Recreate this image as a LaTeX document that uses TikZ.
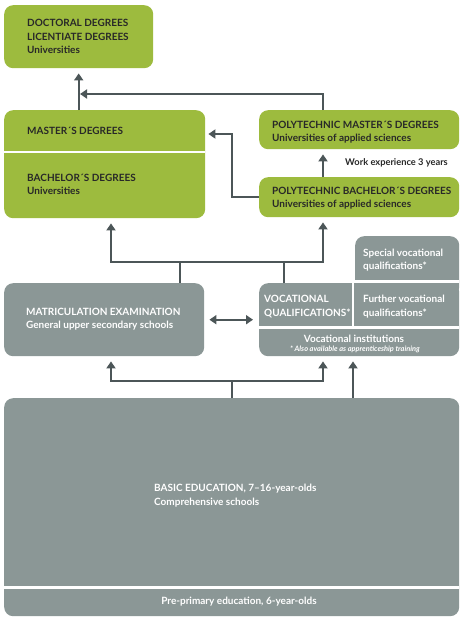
\documentclass[tikz,border=0pt]{standalone}
\usepackage{fontspec}
\setmainfont{Lato}
\usetikzlibrary{arrows.meta,positioning}

\definecolor{unigreen}{RGB}{157,187,62}
\definecolor{schoolgrey}{RGB}{139,151,150}
\definecolor{arrowgrey}{RGB}{76,86,88}
\definecolor{textdark}{RGB}{40,40,40}

\tikzset{
    box/.style={rounded corners=9pt, anchor=north west, inner sep=0pt},
    greenbox/.style={box, fill=unigreen},
    greybox/.style={box, fill=schoolgrey},
    gtext/.style={anchor=west, inner sep=0pt, align=left, text=textdark, font=\bfseries\fontsize{10}{13.3}\selectfont},
    wtext/.style={gtext, text=white},
    link/.style={draw=arrowgrey, line width=1.8pt},
    arr/.style={link, -{Triangle[width=9pt,length=7pt]}, shorten >=5pt},
    dblarr/.style={link, {Triangle[width=9pt,length=7pt]}-{Triangle[width=9pt,length=7pt]}},
    divider/.style={draw=white, line width=2.5pt},
}

\begin{document}
\begin{tikzpicture}[x=1pt,y=-1pt]
    \useasboundingbox (0,0) rectangle (462,624);

    % green boxes
    \node[greenbox, minimum width=149pt, minimum height=63pt] (doc) at (4,5) {};
    \node[greenbox, minimum width=201pt, minimum height=108pt] (unis) at (4,110) {};
    \node[greenbox, minimum width=200pt, minimum height=39pt] (polym) at (259,110) {};
    \node[greenbox, minimum width=200pt, minimum height=40pt] (polyb) at (259,177) {};
    \draw[divider] (unis.west |- 0,152) -- (unis.east |- 0,152);

    % grey boxes
    \node[greybox, minimum width=200pt, minimum height=73pt] (matric) at (4,283) {};
    \node[greybox, minimum width=104pt, minimum height=60pt] (special) at (355,236) {};
    \node[greybox, minimum width=200pt, minimum height=73pt] (vocbox) at (259,283) {};
    \node[greybox, minimum width=455pt, minimum height=218pt] (basic) at (4,398) {};
    \draw[divider] (353,281.5) -- (special.east |- 0,281.5);
    \draw[divider] (353,281) -- (353,328);
    \draw[divider] (vocbox.west |- 0,327.5) -- (vocbox.east |- 0,327.5);
    \draw[divider] (basic.west |- 0,587.5) -- (basic.east |- 0,587.5);

    % texts
    \node[gtext] (doctxt) at (27,36.5) {DOCTORAL DEGREES\\LICENTIATE DEGREES\\Universities};
    \node[gtext] (mastxt) at (27,131) {MASTER´S DEGREES};
    \node[gtext] (bachtxt) at (27,184.5) {BACHELOR´S DEGREES\\Universities};
    \node[gtext] (polymtxt) at (272,132.5) {POLYTECHNIC MASTER´S DEGREES\\Universities of applied sciences};
    \node[gtext] (polybtxt) at (272,198.5) {POLYTECHNIC BACHELOR´S DEGREES\\Universities of applied sciences};
    \node[gtext, anchor=east, font=\bfseries\fontsize{9.3}{11}\selectfont] (work) at (448,163) {Work experience 3 years};
    \node[wtext] (matrictxt) at (26,319.5) {MATRICULATION EXAMINATION\\General upper secondary schools};
    \node[wtext] (specialtxt) at (363,260) {Special vocational\\qualifications*};
    \node[wtext] (voctxt) at (264,306.5) {VOCATIONAL\\QUALIFICATIONS*};
    \node[wtext] (furthertxt) at (363,306.5) {Further vocational\\qualifications*};
    \node[wtext, anchor=center] (insttxt) at (354,339) {Vocational institutions};
    \node[wtext, anchor=center, font=\bfseries\itshape\fontsize{7.4}{8}\selectfont] (apprtxt) at (355,349.5) {* Also available as apprenticeship training};
    \node[wtext] (basictxt) at (154,495.5) {BASIC EDUCATION, 7–16-year-olds\\Comprehensive schools};
    \node[wtext, anchor=center] (pretxt) at (239,602) {Pre-primary education, 6-year-olds};

    % junctions
    \coordinate (topbar) at (80,94);
    \coordinate (turn) at (232,134);
    \coordinate (upL) at (111,262);
    \coordinate (upR) at (323,262);
    \coordinate (lowL) at (111,381);
    \coordinate (lowR) at (323,381);

    % arrows
    \draw[arr] (doc.south |- unis.north) -- (doc.south);
    \draw[arr, shorten >=0pt] (polym.north -| upR) |- (topbar);
    \draw[arr] (polyb.north -| upR) -- (polym.south -| upR);
    \draw[arr, shorten >=3pt] (polyb.west) -| (turn) -- (unis.east |- turn);

    \draw[arr] (upR) -- (upL) -- (unis.south -| upL);
    \draw[arr] (upL) -- (upR) -- (polyb.south -| upR);
    \draw[link] ([xshift=176pt]matric.north west) -- ([xshift=176pt]matric.north west |- upL);
    \draw[link] ([xshift=25pt]vocbox.north west) -- ([xshift=25pt]vocbox.north west |- upR);

    \draw[dblarr] ([xshift=5pt]matric.east) -- ([xshift=-6pt]vocbox.west);

    \draw[arr] (lowR) -- (lowL) -- (matric.south -| lowL);
    \draw[arr] (lowL) -- (lowR) -- (vocbox.south -| lowR);
    \draw[link] ([xshift=228pt]basic.north west) -- ([xshift=228pt]basic.north west |- lowL);
    \draw[arr] ([xshift=349pt]basic.north west) -- ([xshift=349pt]basic.north west |- vocbox.south);
\end{tikzpicture}
\end{document}
